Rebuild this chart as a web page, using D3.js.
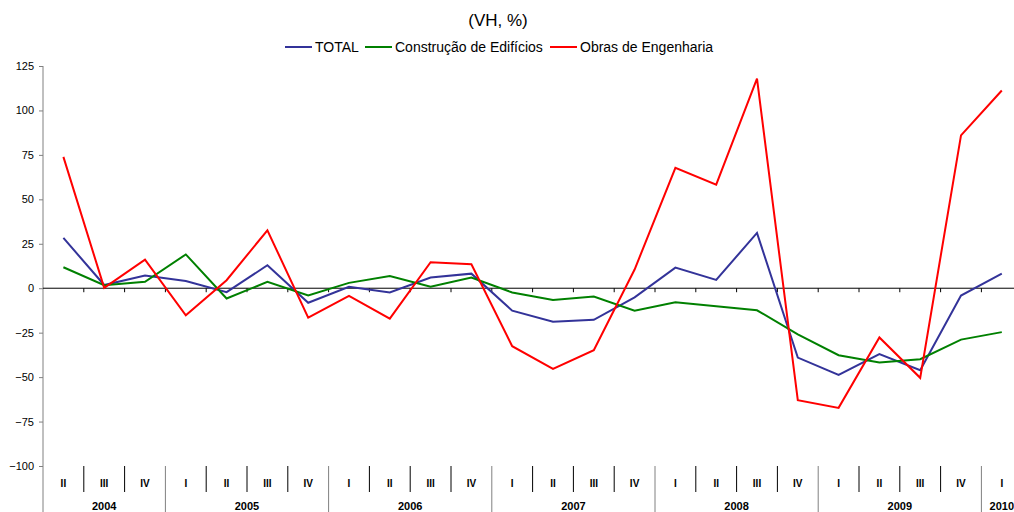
<!DOCTYPE html>
<html>
<head>
<meta charset="utf-8">
<script src="https://cdn.jsdelivr.net/npm/d3@7"></script>
<style>
    body { margin: 0; background: #fff; }
    svg text { font-family: "Liberation Sans", Arial, sans-serif; fill: #000; }
    .yAxis text { font-size: 11px; }
    .quarter { font-size: 10px; font-weight: bold; }
    .year { font-size: 11px; font-weight: bold; }
</style>
</head>
<body>
<div id="chart"></div>
<script>
const quarters = ["II","III","IV","I","II","III","IV","I","II","III","IV","I","II","III","IV",
    "I","II","III","IV","I","II","III","IV","I"];
const years = ["2004","2005","2006","2007","2008","2009","2010"];
const quartersPerYear = [3, 4, 4, 4, 4, 4, 1];

const total = [28.3, 1.8, 7.1, 4.1, -2.2, 12.9, -8.2, 0.8, -2.4, 6.0, 8.2, -12.6, -18.9, -17.8, -5.1,
    11.6, 4.7, 31.1, -39.0, -48.7, -37.1, -46.1, -4.1, 8.2];
const edificios = [11.8, 1.7, 3.6, 19.0, -5.8, 3.6, -4.1, 3.0, 6.9, 0.8, 6.0, -2.4, -6.6, -4.7, -12.6,
    -7.9, -10.1, -12.4, -25.9, -37.7, -41.8, -39.9, -28.9, -24.7];
const engenharia = [73.9, 0.2, 16.1, -15.2, 4.5, 32.6, -16.5, -4.3, -17.1, 14.6, 13.5, -32.6, -45.4, -34.9, 10.5,
    67.7, 58.3, 117.9, -63.0, -67.3, -27.7, -50.4, 86.0, 111.2];

const seriesNames = ["TOTAL", "Construção de Edifícios", "Obras de Engenharia"];
const seriesColors = ["#333399", "#008000", "#ff0000"];
const yTicks = [125, 100, 75, 50, 25, 0, -25, -50, -75, -100];

const width = 1014, height = 512;
const left = 43, bandW = 40.8;
const yTop = 66, yBottom = 466;

const svg = d3.select("#chart").append("svg")
    .attr("width", width)
    .attr("height", height);

const x = d3.scaleBand()
    .domain(d3.range(quarters.length))
    .range([left, left + bandW * quarters.length])
    .padding(0);

const y = d3.scaleLinear()
    .domain([-100, 125])
    .range([yBottom, yTop]);

// title + legend
svg.append("text")
    .attr("x", 498).attr("y", 26)
    .attr("text-anchor", "middle")
    .style("font-size", "17px")
    .text("(VH, %)");

const legendX = [285, 365, 550];
const legend = svg.append("g").selectAll("g")
    .data(seriesNames)
    .enter().append("g")
        .attr("transform", (d, i) => `translate(${legendX[i]},47)`);
legend.append("line")
    .attr("x1", 0).attr("x2", 27)
    .attr("stroke", (d, i) => seriesColors[i])
    .attr("stroke-width", 2);
legend.append("text")
    .attr("x", 30).attr("y", 5)
    .style("font-size", "14px")
    .text(d => d);

// y axis
const yAxis = svg.append("g")
    .attr("class", "yAxis")
    .attr("transform", `translate(${left},0)`)
    .call(d3.axisLeft(y).tickValues(yTicks).tickSize(4).tickPadding(5));
yAxis.select(".domain").remove();
yAxis.selectAll(".tick line").attr("stroke", "#808080");
svg.append("line")
    .attr("x1", left).attr("x2", left)
    .attr("y1", yTop).attr("y2", height)
    .attr("stroke", "#808080");

// zero line with ticks at category boundaries
svg.append("line")
    .attr("x1", left).attr("x2", width)
    .attr("y1", y(0)).attr("y2", y(0))
    .attr("stroke", "#000");
svg.append("g").selectAll("line")
    .data(d3.range(1, quarters.length))
    .enter().append("line")
        .attr("x1", i => x(i)).attr("x2", i => x(i))
        .attr("y1", y(0)).attr("y2", y(0) + 4)
        .attr("stroke", "#000");

// category labels
const yearStart = [];
quartersPerYear.reduce((acc, n) => { yearStart.push(acc); return acc + n; }, 0);
const isYearStart = i => yearStart.indexOf(i) >= 0;

svg.append("g").selectAll("line")
    .data(d3.range(1, quarters.length + 1))
    .enter().append("line")
        .attr("x1", i => x(0) + i * x.bandwidth())
        .attr("x2", i => x(0) + i * x.bandwidth())
        .attr("y1", yBottom)
        .attr("y2", i => isYearStart(i) ? height : 492)
        .attr("stroke", i => isYearStart(i) ? "#808080" : "#000");

svg.append("g").selectAll("text")
    .data(quarters)
    .enter().append("text")
        .attr("class", "quarter")
        .attr("x", (d, i) => x(i) + x.bandwidth() / 2)
        .attr("y", 487)
        .attr("text-anchor", "middle")
        .text(d => d);

svg.append("g").selectAll("text")
    .data(years)
    .enter().append("text")
        .attr("class", "year")
        .attr("x", (d, i) => x(yearStart[i]) + quartersPerYear[i] * x.bandwidth() / 2)
        .attr("y", 510)
        .attr("text-anchor", "middle")
        .text(d => d);

// lines
const line = d3.line()
    .x((d, i) => x(i) + x.bandwidth() / 2)
    .y(d => y(d));

svg.append("g").selectAll("path")
    .data([total, edificios, engenharia])
    .enter().append("path")
        .attr("d", line)
        .attr("fill", "none")
        .attr("stroke", (d, i) => seriesColors[i])
        .attr("stroke-width", 2)
        .attr("stroke-linejoin", "miter");
</script>
</body>
</html>
